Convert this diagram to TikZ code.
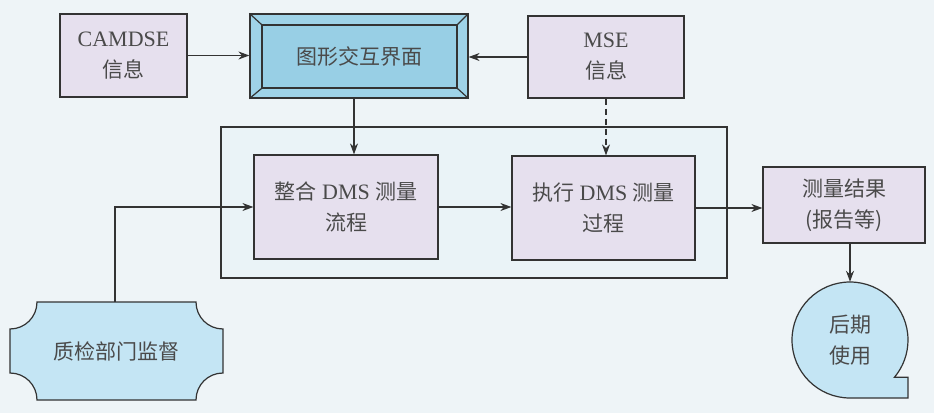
\documentclass[tikz,border=0pt]{standalone}
\usepackage{fontspec}
\setmainfont{Liberation Serif}
\newfontfamily\cjk{Noto Sans CJK SC}
\usetikzlibrary{arrows.meta,calc}
\definecolor{bgc}{HTML}{EEF4F7}
\definecolor{boxc}{HTML}{E6E0EE}
\definecolor{guic}{HTML}{9FD3E8}
\definecolor{guiin}{HTML}{98CFE5}
\definecolor{qc}{HTML}{C4E5F4}
\definecolor{grpc}{HTML}{EAF3F7}
\definecolor{linec}{HTML}{333333}
\definecolor{txtc}{HTML}{4A4A4A}
\newcommand{\cj}[1]{{\fontsize{21}{31}\cjk #1}}
\tikzset{
  every node/.style={font=\fontsize{22}{31}\selectfont, text=txtc, align=center},
  pbox/.style={draw=linec, line width=1.2pt, fill=boxc, inner sep=0pt},
  arr/.style={draw=linec, line width=1.2pt, -{Stealth[length=11pt,width=8pt]}},
  ln/.style={draw=linec, line width=1.2pt},
}
\begin{document}
\begin{tikzpicture}[x=1pt,y=1pt]
\useasboundingbox (0,0) rectangle (934,413);
\fill[bgc] (0,0) rectangle (934,413);
% container
\node[ln, fill=grpc, minimum width=506pt, minimum height=151pt, inner sep=0pt] (grp) at (474,210.5) {};
% top row
\node[pbox, minimum width=127pt, minimum height=83pt] (camdse) at (123.5,357.5) {CAMDSE\\\cj{信息}};
\node[pbox, minimum width=156pt, minimum height=82pt] (mse) at (606,356) {MSE\\\cj{信息}};
\node[ln, fill=guic, minimum width=218pt, minimum height=84pt, inner sep=0pt] (gui) at (359,357) {};
\node[ln, fill=guiin, minimum width=195pt, minimum height=63pt, inner sep=0pt] (guiin) at (359.5,356.5) {\cj{图形交互界面}};
\draw[ln] (gui.north west) -- (guiin.north west);
\draw[ln] (gui.north east) -- (guiin.north east);
\draw[ln] (gui.south west) -- (guiin.south west);
\draw[ln] (gui.south east) -- (guiin.south east);
% inner row
\node[pbox, minimum width=184pt, minimum height=104pt] (zhenghe) at (346,206) {\cj{整合} DMS \cj{测量}\\\cj{流程}};
\node[pbox, minimum width=183pt, minimum height=104pt] (zhixing) at (603.5,205) {\cj{执行} DMS \cj{测量}\\\cj{过程}};
\node[pbox, minimum width=162pt, minimum height=76pt] (result) at (844,208) {\cj{测量结果}\\\cj{(报告等)}};
% quality inspection shape
\coordinate (qi) at (116.5,62);
\path[ln, fill=qc]
  ($(qi)+(-79.5,49)$) -- ($(qi)+(79.5,49)$)
  .. controls ($(qi)+(79.5,34)$) and ($(qi)+(91.5,22)$) .. ($(qi)+(106.5,22)$)
  -- ($(qi)+(106.5,-22)$)
  .. controls ($(qi)+(91.5,-22)$) and ($(qi)+(79.5,-34)$) .. ($(qi)+(79.5,-49)$)
  -- ($(qi)+(-79.5,-49)$)
  .. controls ($(qi)+(-79.5,-34)$) and ($(qi)+(-91.5,-22)$) .. ($(qi)+(-106.5,-22)$)
  -- ($(qi)+(-106.5,22)$)
  .. controls ($(qi)+(-91.5,22)$) and ($(qi)+(-79.5,34)$) .. cycle;
\node[minimum width=213pt, minimum height=98pt, inner sep=0pt] (qinode) at (qi) {\cj{质检部门监督}};
% later use tape shape
\coordinate (hc) at (850,73);
\path[ln, fill=qc] (850,15) arc[start angle=270, end angle=-40, radius=58pt] -- (908,35.7) -- (908,15) -- cycle;
\node[circle, minimum size=116pt, inner sep=0pt] (houqi) at (hc) {\cj{后期}\\\cj{使用}};
% connectors
\draw[arr] (camdse.east) -- (camdse.east -| gui.west);
\draw[arr] (mse.west) -- (mse.west -| gui.east);
\draw[arr] ([xshift=-5pt]gui.south) -- ([xshift=-5pt]gui.south |- zhenghe.north);
\draw[arr, dashed, dash pattern=on 6pt off 4pt] (mse.south) -- (mse.south |- zhixing.north);
\draw[arr] (zhenghe.east) -- (zhenghe.east -| zhixing.west);
\draw[arr] (zhixing.east) -- (zhixing.east -| result.west);
\draw[arr] (houqi.north |- result.south) -- (houqi.north);
\draw[arr] ([xshift=-1.5pt]qinode.north) |- (zhenghe.west);
\end{tikzpicture}
\end{document}
